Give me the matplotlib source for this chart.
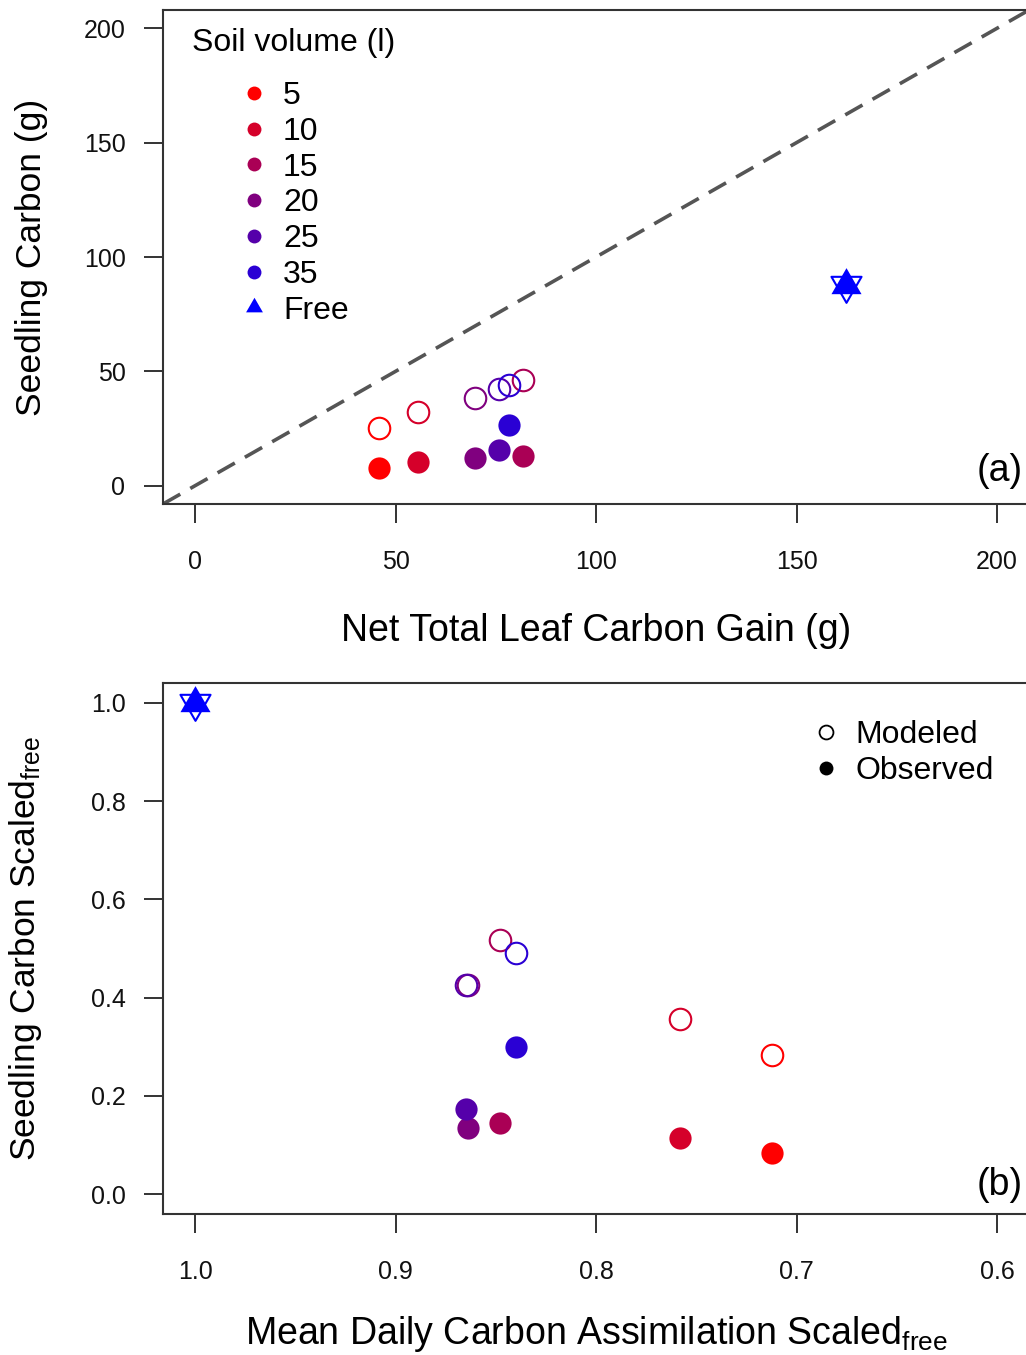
import matplotlib
matplotlib.use("Agg")
import matplotlib.pyplot as plt
from matplotlib.lines import Line2D
from matplotlib.path import Path

plt.rcParams['font.family'] = ['Liberation Sans', 'DejaVu Sans']
plt.rcParams['mathtext.fontset'] = 'custom'
plt.rcParams['mathtext.rm'] = 'Liberation Sans'
plt.rcParams['mathtext.it'] = 'Liberation Sans'

# ---- data ----
volumes = ['5', '10', '15', '20', '25', '35']
vol_colors = ['#FF0000', '#D5002A', '#AA0055', '#80007F', '#5500AA', '#2A00D4']
free_color = '#0000FF'

# panel (a)
a_gain = [45.9, 55.7, 81.9, 69.7, 75.9, 78.4]
a_observed = [7.8, 10.4, 13.0, 12.2, 15.7, 26.5]
a_modeled = [25.2, 32.2, 46.1, 38.3, 42.2, 43.9]
a_free_gain = 162.3
a_free_observed = 87.8
a_free_modeled = 87.8

# panel (b)
b_assim = [0.712, 0.758, 0.848, 0.864, 0.865, 0.840]
b_observed = [0.0835, 0.114, 0.145, 0.134, 0.173, 0.299]
b_modeled = [0.283, 0.356, 0.517, 0.426, 0.426, 0.491]
b_free_assim = 1.0
b_free_observed = 1.0
b_free_modeled = 1.0

a_ticks = [0, 50, 100, 150, 200]
b_xticks = [1.0, 0.9, 0.8, 0.7, 0.6]
b_yticks = [0.0, 0.2, 0.4, 0.6, 0.8, 1.0]

# equilateral triangles centred on their centroid (R-style)
TRI_UP = Path([(0, 1), (-0.866, -0.5), (0.866, -0.5), (0, 1)],
              [Path.MOVETO, Path.LINETO, Path.LINETO, Path.CLOSEPOLY])
TRI_DOWN = Path([(0, -1), (-0.866, 0.5), (0.866, 0.5), (0, -1)],
                [Path.MOVETO, Path.LINETO, Path.LINETO, Path.CLOSEPOLY])

W, H = 1026, 1355
fig = plt.figure(figsize=(W / 100, H / 100), dpi=100)

left = 163 / W
right = 1.003
ax_a = fig.add_axes([left, 1 - 504 / H, right - left, (504 - 10) / H])
ax_b = fig.add_axes([left, 1 - 1214 / H, right - left, (1214 - 683) / H])

frame_c = '#333333'
for ax in (ax_a, ax_b):
    for s in ax.spines.values():
        s.set_color(frame_c)
        s.set_linewidth(1.5)
    ax.tick_params(direction='out', length=14, width=1.4, color=frame_c,
                   labelsize=18, labelcolor='#111111')
    ax.tick_params(axis='x', pad=19)
    ax.tick_params(axis='y', pad=13)

CS = 16   # circle marker size (pt)
TS = 25   # triangle size

# ---- panel (a) ----
ax = ax_a
ax.axline((0, 0), slope=1, color='#555555', lw=2.6, dashes=(5.5, 3.2), zorder=1)
for x, yo, ym, c in zip(a_gain, a_observed, a_modeled, vol_colors):
    ax.plot([x], [yo], 'o', ms=CS, mfc=c, mec=c, mew=0, zorder=3)
    ax.plot([x], [ym], 'o', ms=CS - 0.5, mfc='none', mec=c, mew=1.5, zorder=3)
ax.plot([a_free_gain], [a_free_observed], marker=TRI_UP, ls='none', ms=TS,
        mfc=free_color, mec=free_color, mew=0, zorder=3)
ax.plot([a_free_gain], [a_free_modeled], marker=TRI_DOWN, ls='none', ms=TS,
        mfc='none', mec=free_color, mew=1.5, zorder=3)
ax.set_xlim(-8, 208)
ax.set_ylim(-8, 208)
ax.set_xticks(a_ticks)
ax.set_yticks(a_ticks)
ax.set_xlabel('Net Total Leaf Carbon Gain (g)', fontsize=27)
ax.set_ylabel('Seedling Carbon (g)', fontsize=25.5)
ax.xaxis.set_label_coords(0.5, (504 - 613) / 494)
ax.yaxis.set_label_coords((48 - 163) / 863, 0.5)
ax.text(0.993, 0.03, '(a)', transform=ax.transAxes, ha='right', va='bottom', fontsize=27)
ax.text(0.034, 0.933, 'Soil volume (l)', transform=ax.transAxes, ha='left', va='center', fontsize=23)

handles = [Line2D([], [], ls='none', marker='o', ms=10, mfc=c, mec=c, mew=0) for c in vol_colors]
handles.append(Line2D([], [], ls='none', marker=TRI_UP, ms=14, mfc=free_color, mec=free_color, mew=0))
ax.legend(handles, volumes + ['Free'], loc='upper left', bbox_to_anchor=(0.0869, 0.856),
          frameon=False, fontsize=23, handlelength=1.0, handletextpad=0.4,
          labelspacing=0.18, borderpad=0.0, borderaxespad=0.0)

# ---- panel (b) ----
ax = ax_b
for x, yo, ym, c in zip(b_assim, b_observed, b_modeled, vol_colors):
    ax.plot([x], [yo], 'o', ms=CS, mfc=c, mec=c, mew=0, zorder=3)
    ax.plot([x], [ym], 'o', ms=CS - 0.5, mfc='none', mec=c, mew=1.5, zorder=3)
ax.plot([b_free_assim], [b_free_observed], marker=TRI_UP, ls='none', ms=TS,
        mfc=free_color, mec=free_color, mew=0, zorder=3)
ax.plot([b_free_assim], [b_free_modeled], marker=TRI_DOWN, ls='none', ms=TS,
        mfc='none', mec=free_color, mew=1.5, zorder=3)
ax.set_xlim(1.016, 0.584)
ax.set_ylim(-0.0407, 1.0407)
ax.set_xticks(b_xticks)
ax.set_xticklabels([f'{v:.1f}' for v in b_xticks])
ax.set_yticks(b_yticks)
ax.set_yticklabels([f'{v:.1f}' for v in b_yticks])
ax.set_xlabel(r'Mean Daily Carbon Assimilation Scaled$_{\mathrm{free}}$', fontsize=27)
ax.set_ylabel(r'Seedling Carbon Scaled$_{\mathrm{free}}$', fontsize=25.5)
ax.xaxis.set_label_coords(0.5, (1214 - 1314) / 531)
ax.yaxis.set_label_coords((44 - 163) / 863, 0.5)
ax.text(0.993, 0.02, '(b)', transform=ax.transAxes, ha='right', va='bottom', fontsize=27)

mh = [Line2D([], [], ls='none', marker='o', ms=10, mfc='none', mec='black', mew=1.3),
      Line2D([], [], ls='none', marker='o', ms=10, mfc='black', mec='black', mew=0)]
ax.legend(mh, ['Modeled', 'Observed'], loc='upper left', bbox_to_anchor=(0.7468, 0.930),
          frameon=False, fontsize=23, handlelength=1.0, handletextpad=0.44,
          labelspacing=0.18, borderpad=0.0, borderaxespad=0.0)

fig.savefig('out.png', dpi=100)
